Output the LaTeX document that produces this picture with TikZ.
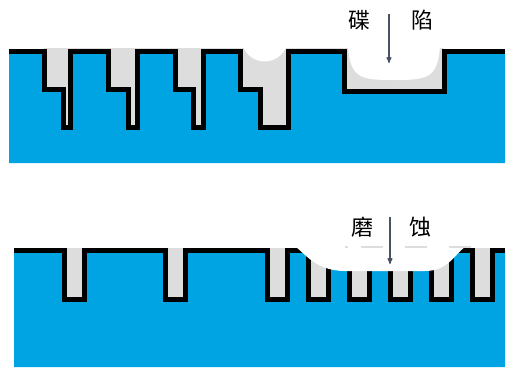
\documentclass[tikz,border=0pt]{standalone}
\usepackage{fontspec}
\newfontfamily\cjk{Noto Sans CJK SC}
\usetikzlibrary{arrows}
\definecolor{wafer}{RGB}{0,164,226}
\definecolor{slurry}{RGB}{221,221,221}
\definecolor{pointer}{RGB}{72,82,98}
\newcommand{\dishedge}{(9,51)
  \foreach \l/\s/\r in {44/63/70,108/128/137,175/193/203,240/260/288}
    { -- (\l,51) -- (\l,89) -- (\s,89) -- (\s,127) -- (\r,127) -- (\r,51) }
  -- (344,51) -- (344,91) -- (444,91) -- (444,51) -- (505,51)}
\newcommand{\erodeedge}{(14,250)
  \foreach \l in {64,165,267,308,349,390,431,472}
    { -- (\l,250) -- (\l,299) -- ({\l+20},299) -- ({\l+20},250) }
  -- (505,250)}

\begin{document}
\begin{tikzpicture}[x=1pt,y=-1pt,>=stealth',
  profile/.style={line width=5pt,line join=miter},
  cjklabel/.style={font=\cjk\fontsize{22}{22}\selectfont,inner sep=0pt},
  pointerline/.style={->,draw=pointer,line width=1.1pt},
  guide/.style={draw=slurry,line width=2pt,
    dash pattern=on 3pt off 13pt on 22pt off 22pt on 22pt off 22pt on 22pt}]
\useasboundingbox (0,0) rectangle (508,367);

% dishing
\fill[slurry] (44,48) rectangle (444,127);
\fill[wafer] \dishedge -- (505,163) -- (9,163) -- cycle;
\fill[white] (348,46) .. controls (350,79) and (362,80) .. (394,80)
  .. controls (426,80) and (438,79) .. (440,46) -- cycle;
\fill[white] (243,46) .. controls (250,66) and (278,67) .. (287,46) -- cycle;
\draw[profile] \dishedge;
\node[cjklabel] (dishL) at (359,20) {碟};
\node[cjklabel] (dishR) at (422,20) {陷};
\coordinate (dishtail) at (389,14);
\coordinate (dishhead) at (389,63);
\draw[pointerline] (dishtail) -- (dishhead);

% erosion
\fill[slurry] (64,248) rectangle (492,299);
\fill[wafer] \erodeedge -- (505,367) -- (14,367) -- cycle;
\draw[profile] \erodeedge;
\fill[white] (292,245) .. controls (302,248) and (312,271) .. (345,271)
  -- (425,271) .. controls (450,271) and (455,252) .. (468,245) -- cycle;
\draw[guide] (345,247) -- (471,247);
\node[cjklabel] (erodeL) at (362,227) {磨};
\node[cjklabel] (erodeR) at (420,227) {蚀};
\coordinate (erodetail) at (390,217);
\coordinate (erodehead) at (390,264);
\draw[pointerline] (erodetail) -- (erodehead);
\end{tikzpicture}
\end{document}
